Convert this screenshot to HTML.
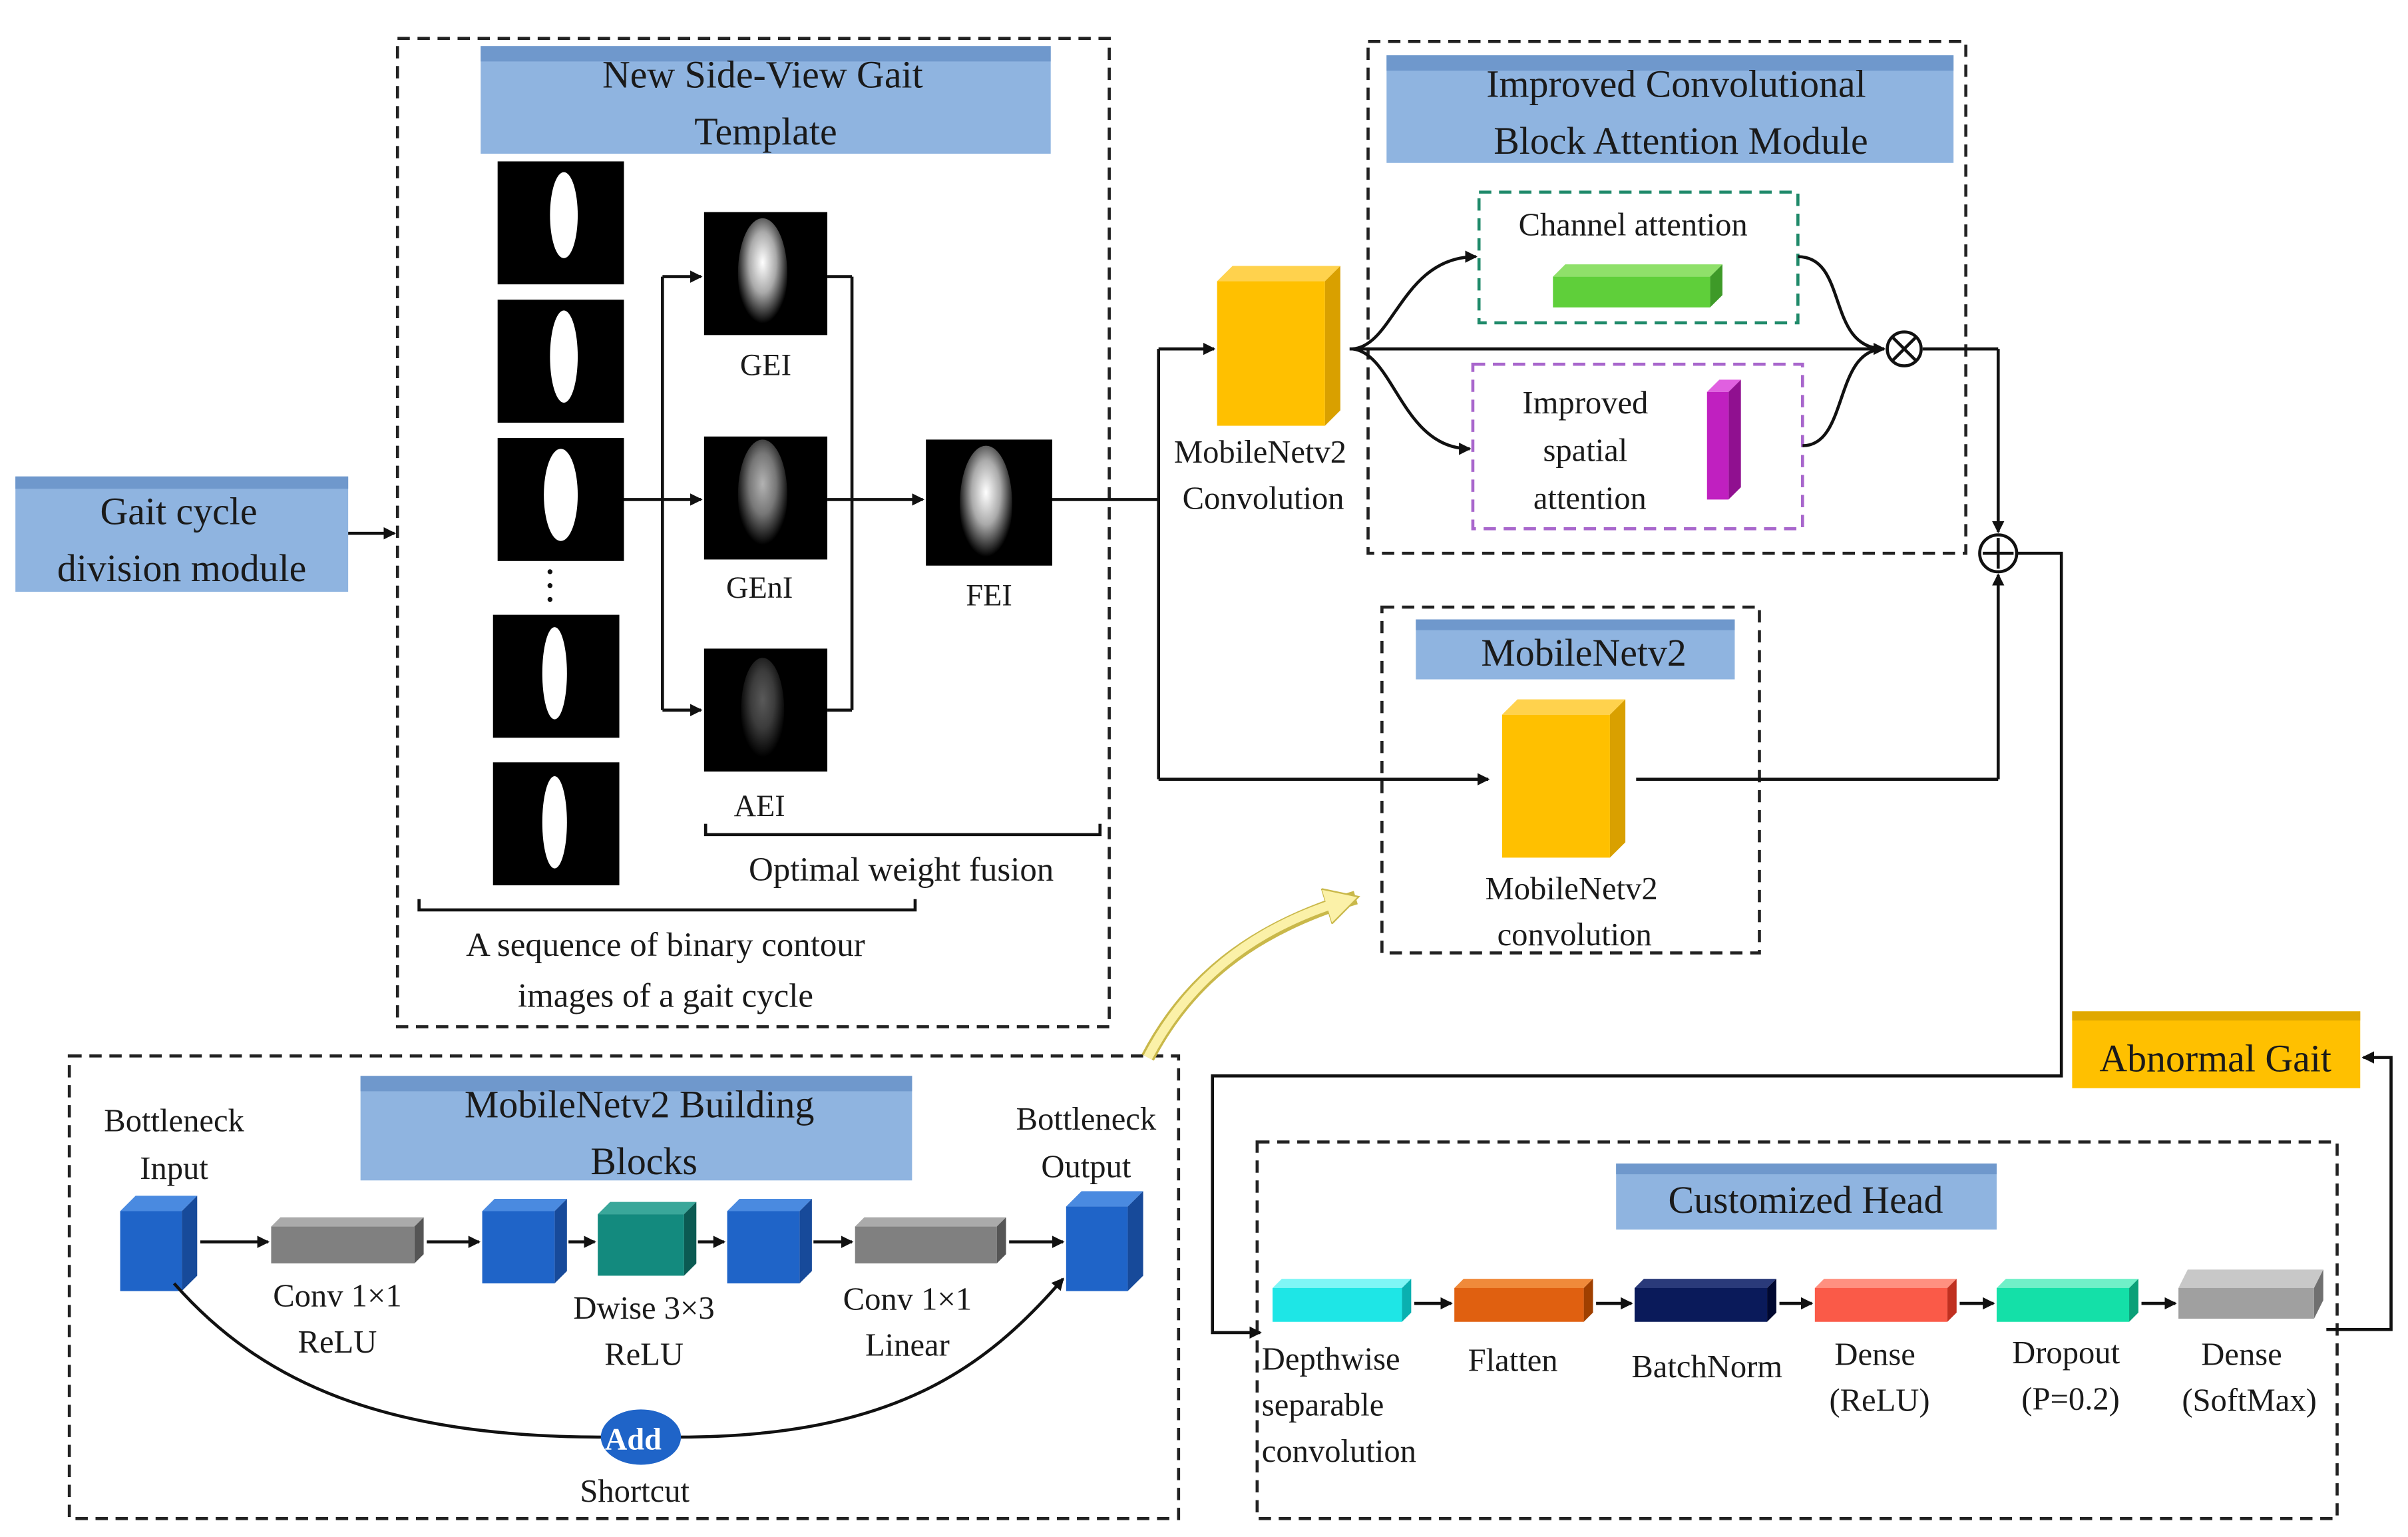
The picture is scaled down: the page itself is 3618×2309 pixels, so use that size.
<!DOCTYPE html>
<html><head><meta charset="utf-8"><style>
html,body{margin:0;padding:0;background:#fff;}
svg{display:block;}
text{font-family:"Liberation Serif",serif;fill:#1a1a1a;}
</style></head><body>
<svg width="3618" height="2309" viewBox="0 0 1563 1000" preserveAspectRatio="none" xmlns="http://www.w3.org/2000/svg">
<defs>
<marker id="a" markerWidth="8" markerHeight="8" refX="7" refY="4" orient="auto" markerUnits="userSpaceOnUse"><path d="M0,0 L8,4 L0,8 Z" fill="#111"/></marker>
<marker id="y" markerWidth="24" markerHeight="24" refX="20" refY="12" orient="auto" markerUnits="userSpaceOnUse"><path d="M0,0 L22,12 L0,24 Z" fill="#fbf1a8" stroke="#c9b84a"/></marker>
<radialGradient id="g1" cx="50%" cy="40%" r="55%"><stop offset="0" stop-color="#fff"/><stop offset="0.5" stop-color="#aaa"/><stop offset="1" stop-color="#000"/></radialGradient>
</defs>
<rect width="1563" height="1000" fill="#fff"/>
<g fill="none" stroke="#222" stroke-width="2" stroke-dasharray="8,5">
<rect x="258" y="25" width="462" height="643"/>
<rect x="888" y="27" width="388" height="333"/>
<rect x="897" y="395" width="245" height="225"/>
<rect x="45" y="687" width="720" height="301"/>
<rect x="816" y="743" width="701" height="245"/>
</g>
<rect x="960" y="125" width="207" height="85" fill="none" stroke="#1f8a6a" stroke-width="2" stroke-dasharray="8,5"/>
<rect x="956" y="237" width="214" height="107" fill="none" stroke="#a866cc" stroke-width="2" stroke-dasharray="8,5"/>
<!-- blue title boxes -->
<g>
<rect x="10" y="310" width="216" height="75" fill="#8fb4e0"/><rect x="10" y="310" width="216" height="8" fill="#6f98cc"/>
<rect x="312" y="30" width="370" height="70" fill="#8fb4e0"/><rect x="312" y="30" width="370" height="10" fill="#6f98cc"/>
<rect x="900" y="36" width="368" height="70" fill="#8fb4e0"/><rect x="900" y="36" width="368" height="10" fill="#6f98cc"/>
<rect x="919" y="403" width="207" height="39" fill="#8fb4e0"/><rect x="919" y="403" width="207" height="7" fill="#6f98cc"/>
<rect x="234" y="700" width="358" height="68" fill="#8fb4e0"/><rect x="234" y="700" width="358" height="10" fill="#6f98cc"/>
<rect x="1049" y="757" width="247" height="43" fill="#8fb4e0"/><rect x="1049" y="757" width="247" height="7" fill="#6f98cc"/>
<rect x="1345" y="658" width="187" height="50" fill="#ffc000"/><rect x="1345" y="658" width="187" height="6" fill="#e0a800"/>
</g>
<g font-size="25" text-anchor="middle">
<text x="116" y="341">Gait cycle</text><text x="118" y="378">division module</text>
<text x="495" y="57">New Side-View Gait</text><text x="497" y="94">Template</text>
<text x="1088" y="63">Improved Convolutional</text><text x="1091" y="100">Block Attention Module</text>
<text x="1028" y="433">MobileNetv2</text>
<text x="415" y="727">MobileNetv2 Building</text><text x="418" y="764">Blocks</text>
<text x="1172" y="789">Customized Head</text>
<text x="1438" y="697">Abnormal Gait</text>
</g>
<!-- silhouettes -->
<g fill="#000">
<rect x="323" y="105" width="82" height="80"/><rect x="323" y="195" width="82" height="80"/><rect x="323" y="285" width="82" height="80"/>
<rect x="320" y="400" width="82" height="80"/><rect x="320" y="496" width="82" height="80"/>
<rect x="457" y="138" width="80" height="80"/><rect x="457" y="284" width="80" height="80"/><rect x="457" y="422" width="80" height="80"/>
<rect x="601" y="286" width="82" height="82"/>
</g>
<g fill="#fff">
<ellipse cx="366" cy="140" rx="9" ry="28"/><ellipse cx="366" cy="232" rx="9" ry="30"/><ellipse cx="364" cy="322" rx="11" ry="30"/>
<ellipse cx="360" cy="438" rx="8" ry="30"/><ellipse cx="360" cy="535" rx="8" ry="30"/>
</g>
<ellipse cx="495" cy="178" rx="16" ry="36" fill="url(#g1)"/>
<ellipse cx="495" cy="322" rx="16" ry="36" fill="url(#g1)" opacity="0.7"/>
<ellipse cx="495" cy="462" rx="14" ry="34" fill="url(#g1)" opacity="0.35"/>
<ellipse cx="640" cy="328" rx="17" ry="38" fill="url(#g1)"/>
<g fill="#111"><circle cx="357" cy="372" r="1.6"/><circle cx="357" cy="381" r="1.6"/><circle cx="357" cy="390" r="1.6"/></g>
<g font-size="20" text-anchor="middle">
<text x="497" y="244">GEI</text><text x="493" y="389">GEnI</text><text x="493" y="531">AEI</text><text x="642" y="394">FEI</text>
<text x="585" y="573" font-size="22">Optimal weight fusion</text>
<text x="432" y="622" font-size="22">A sequence of binary contour</text>
<text x="432" y="655" font-size="22">images of a gait cycle</text>
</g>
<!-- braces -->
<path d="M458,536 L458,543 L714,543 L714,536" fill="none" stroke="#111" stroke-width="2"/>
<path d="M272,585 L272,592 L594,592 L594,585" fill="none" stroke="#111" stroke-width="2"/>
<!-- connectors left -->
<g fill="none" stroke="#111" stroke-width="2">
<line x1="226" y1="347" x2="256" y2="347" marker-end="url(#a)"/>
<line x1="405" y1="325" x2="430" y2="325"/>
<line x1="430" y1="180" x2="430" y2="462"/>
<line x1="430" y1="180" x2="455" y2="180" marker-end="url(#a)"/>
<line x1="430" y1="325" x2="455" y2="325" marker-end="url(#a)"/>
<line x1="430" y1="462" x2="455" y2="462" marker-end="url(#a)"/>
<line x1="537" y1="180" x2="553" y2="180"/><line x1="537" y1="462" x2="553" y2="462"/>
<line x1="553" y1="180" x2="553" y2="462"/>
<line x1="537" y1="325" x2="599" y2="325" marker-end="url(#a)"/>
<line x1="683" y1="325" x2="752" y2="325"/>
<line x1="752" y1="227" x2="752" y2="507"/>
<line x1="752" y1="227" x2="788" y2="227" marker-end="url(#a)"/>
<line x1="752" y1="507" x2="966" y2="507" marker-end="url(#a)"/>
<line x1="876" y1="227" x2="1223" y2="227" marker-end="url(#a)"/>
<path d="M878,227 C905,225 910,167 958,167" marker-end="url(#a)"/>
<path d="M878,227 C905,230 910,292 954,292" marker-end="url(#a)"/>
<path d="M1167,167 C1200,167 1185,227 1223,227"/>
<path d="M1170,290 C1200,290 1190,227 1223,227"/>
<line x1="1248" y1="227" x2="1297" y2="227"/>
<line x1="1297" y1="227" x2="1297" y2="346" marker-end="url(#a)"/>
<line x1="1062" y1="507" x2="1297" y2="507"/>
<line x1="1297" y1="507" x2="1297" y2="374" marker-end="url(#a)"/>
<polyline points="1309,360 1338,360 1338,700 787,700 787,867 818,867" marker-end="url(#a)"/>
<polyline points="1510,865 1552,865 1552,688 1534,688" marker-end="url(#a)"/>
</g>
<circle cx="1236" cy="227" r="11" fill="#fff" stroke="#111" stroke-width="2"/>
<path d="M1228,219 L1244,235 M1244,219 L1228,235" stroke="#111" stroke-width="2"/>
<circle cx="1297" cy="360" r="12" fill="#fff" stroke="#111" stroke-width="2"/>
<path d="M1287,360 H1307 M1297,350 V370" stroke="#111" stroke-width="2"/>
<!-- yellow cubes -->
<g>
<polygon points="790,183 800,173 870,173 860,183" fill="#ffd24d"/><polygon points="860,183 870,173 870,267 860,277" fill="#d9a000"/><rect x="790" y="183" width="70" height="94" fill="#ffc000"/>
<polygon points="975,465 985,455 1055,455 1045,465" fill="#ffd24d"/><polygon points="1045,465 1055,455 1055,548 1045,558" fill="#d9a000"/><rect x="975" y="465" width="70" height="93" fill="#ffc000"/>
</g>
<g font-size="21" text-anchor="middle">
<text x="818" y="301">MobileNetv2</text><text x="820" y="331">Convolution</text>
<text x="1020" y="585">MobileNetv2</text><text x="1022" y="615">convolution</text>
<text x="1060" y="153">Channel attention</text>
<text x="1029" y="269">Improved</text><text x="1029" y="300">spatial</text><text x="1032" y="331">attention</text>
</g>
<polygon points="1008,180 1016,172 1118,172 1110,180" fill="#8fe06a"/><polygon points="1110,180 1118,172 1118,192 1110,200" fill="#3e9a28"/><rect x="1008" y="180" width="102" height="20" fill="#5fcf3a"/>
<polygon points="1108,255 1116,247 1130,247 1122,255" fill="#e060e0"/><polygon points="1122,255 1130,247 1130,317 1122,325" fill="#901090"/><rect x="1108" y="255" width="14" height="70" fill="#c020c0"/>
<!-- yellow arrow -->
<path d="M745,688 C770,640 810,605 880,584" fill="none" stroke="#c9b84a" stroke-width="9" marker-end="url(#y)"/>
<path d="M745,688 C770,640 810,605 872,586" fill="none" stroke="#fbf1a8" stroke-width="6"/>
<!-- building blocks -->
<g>
<polygon points="78,788 88,778 128,778 118,788" fill="#4a8ae0"/><polygon points="118,788 128,778 128,830 118,840" fill="#174a9a"/><rect x="78" y="788" width="40" height="52" fill="#1f64c8"/>
<polygon points="176,798 182,792 275,792 269,798" fill="#aaa"/><polygon points="269,798 275,792 275,816 269,822" fill="#555"/><rect x="176" y="798" width="93" height="24" fill="#808080"/>
<polygon points="313,788 321,780 368,780 360,788" fill="#4a8ae0"/><polygon points="360,788 368,780 368,827 360,835" fill="#174a9a"/><rect x="313" y="788" width="47" height="47" fill="#1f64c8"/>
<polygon points="388,790 396,782 452,782 444,790" fill="#3aa79a"/><polygon points="444,790 452,782 452,822 444,830" fill="#0b5a52"/><rect x="388" y="790" width="56" height="40" fill="#138a7e"/>
<polygon points="472,788 480,780 527,780 519,788" fill="#4a8ae0"/><polygon points="519,788 527,780 527,827 519,835" fill="#174a9a"/><rect x="472" y="788" width="47" height="47" fill="#1f64c8"/>
<polygon points="555,798 561,792 653,792 647,798" fill="#aaa"/><polygon points="647,798 653,792 653,816 647,822" fill="#555"/><rect x="555" y="798" width="92" height="24" fill="#808080"/>
<polygon points="692,785 702,775 742,775 732,785" fill="#4a8ae0"/><polygon points="732,785 742,775 742,830 732,840" fill="#174a9a"/><rect x="692" y="785" width="40" height="55" fill="#1f64c8"/>
</g>
<g fill="none" stroke="#111" stroke-width="2">
<line x1="130" y1="808" x2="174" y2="808" marker-end="url(#a)"/>
<line x1="277" y1="808" x2="311" y2="808" marker-end="url(#a)"/>
<line x1="369" y1="808" x2="386" y2="808" marker-end="url(#a)"/>
<line x1="453" y1="808" x2="470" y2="808" marker-end="url(#a)"/>
<line x1="528" y1="808" x2="553" y2="808" marker-end="url(#a)"/>
<line x1="655" y1="808" x2="690" y2="808" marker-end="url(#a)"/>
<path d="M113,835 C170,900 250,935 392,935"/>
<path d="M440,935 C580,935 640,890 690,832" marker-end="url(#a)"/>
</g>
<ellipse cx="416" cy="935" rx="26" ry="18" fill="#1f64c8"/>
<text x="411" y="943" font-size="20" text-anchor="middle" fill="#fff" style="fill:#fff;font-weight:bold">Add</text>
<g font-size="21" text-anchor="middle">
<text x="113" y="736">Bottleneck</text><text x="113" y="767">Input</text>
<text x="705" y="735">Bottleneck</text><text x="705" y="766">Output</text>
<text x="219" y="850">Conv 1×1</text><text x="219" y="880">ReLU</text>
<text x="418" y="858">Dwise 3×3</text><text x="418" y="888">ReLU</text>
<text x="589" y="852">Conv 1×1</text><text x="589" y="882">Linear</text>
<text x="412" y="977">Shortcut</text>
</g>
<!-- customized head -->
<g>
<polygon points="826,838 832,832 916,832 910,838" fill="#7ff6f6"/><polygon points="910,838 916,832 916,854 910,860" fill="#0ab0b0"/><rect x="826" y="838" width="84" height="22" fill="#1ee6e6"/>
<polygon points="944,838 950,832 1034,832 1028,838" fill="#f08a3a"/><polygon points="1028,838 1034,832 1034,854 1028,860" fill="#a04000"/><rect x="944" y="838" width="84" height="22" fill="#e06010"/>
<polygon points="1061,838 1067,832 1153,832 1147,838" fill="#2a3a7a"/><polygon points="1147,838 1153,832 1153,854 1147,860" fill="#000830"/><rect x="1061" y="838" width="86" height="22" fill="#0a1a5a"/>
<polygon points="1178,838 1184,832 1270,832 1264,838" fill="#ff9080"/><polygon points="1264,838 1270,832 1270,854 1264,860" fill="#c03020"/><rect x="1178" y="838" width="86" height="22" fill="#fa5a48"/>
<polygon points="1296,838 1302,832 1388,832 1382,838" fill="#70f0c8"/><polygon points="1382,838 1388,832 1388,854 1382,860" fill="#0aa078"/><rect x="1296" y="838" width="86" height="22" fill="#14e0a8"/>
<polygon points="1414,838 1420,826 1508,826 1502,838" fill="#c8c8c8"/><polygon points="1502,838 1508,826 1508,846 1502,858" fill="#707070"/><rect x="1414" y="838" width="88" height="20" fill="#a0a0a0"/>
</g>
<g fill="none" stroke="#111" stroke-width="2">
<line x1="918" y1="848" x2="942" y2="848" marker-end="url(#a)"/>
<line x1="1036" y1="848" x2="1059" y2="848" marker-end="url(#a)"/>
<line x1="1155" y1="848" x2="1176" y2="848" marker-end="url(#a)"/>
<line x1="1272" y1="848" x2="1294" y2="848" marker-end="url(#a)"/>
<line x1="1390" y1="848" x2="1412" y2="848" marker-end="url(#a)"/>
</g>
<g font-size="21">
<text x="819" y="891">Depthwise</text><text x="819" y="921">separable</text><text x="819" y="951">convolution</text>
<text x="982" y="892" text-anchor="middle">Flatten</text>
<text x="1108" y="896" text-anchor="middle">BatchNorm</text>
<text x="1217" y="888" text-anchor="middle">Dense</text><text x="1220" y="918" text-anchor="middle">(ReLU)</text>
<text x="1341" y="887" text-anchor="middle">Dropout</text><text x="1344" y="917" text-anchor="middle">(P=0.2)</text>
<text x="1455" y="888" text-anchor="middle">Dense</text><text x="1460" y="918" text-anchor="middle">(SoftMax)</text>
</g>
</svg>
</body></html>
